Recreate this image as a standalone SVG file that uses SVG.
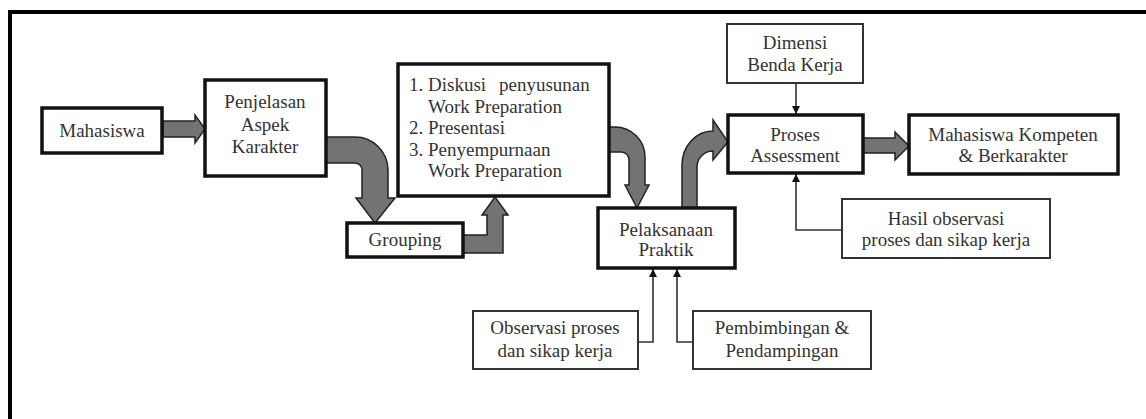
<svg xmlns="http://www.w3.org/2000/svg" width="1146" height="419" viewBox="0 0 1146 419">
<defs>
<style>
.thick{fill:#fff;stroke:#111;stroke-width:3.5}
.thin{fill:#fff;stroke:#333;stroke-width:2}
text{font-family:'Liberation Serif','DejaVu Serif',serif;font-size:19px;fill:#333}
.t{text-anchor:middle}
.fat{fill:#737373;stroke:#222;stroke-width:1.5;stroke-linejoin:miter}
.ln{fill:none;stroke:#333;stroke-width:1.6}
</style>
<marker id="ah" markerWidth="9" markerHeight="9" refX="8" refY="4" orient="auto" markerUnits="userSpaceOnUse">
<path d="M0,0 L8,4 L0,8 Z" fill="#111"/>
</marker>
</defs>
<rect x="0" y="0" width="1146" height="419" fill="#fff"/>
<path d="M10,419 L10,12 L1146,12" fill="none" stroke="#000" stroke-width="4"/>

<g id="connectors">
<path class="fat" d="M163,121 L195,121 L195,115 L205,129 L195,143 L195,137 L163,137 Z"/>
<path class="fat" d="M326,137 L355,137 A33,33 0 0 1 388,170 L388,198 L395,198 L375,223 L356,198 L362,198 L362,170 A7,7 0 0 0 355,163 L326,163 Z"/>
<path class="fat" d="M463,235 L487,235 L487,215 L482,215 L495,197 L508,215 L503,215 L503,253 L463,253 Z"/>
<path class="fat" d="M609,127 L615,127 A30,30 0 0 1 645,157 L645,185 L649,185 L637,208 L625,185 L629,185 L629,160 A8,8 0 0 0 621,152 L609,152 Z"/>
<path class="fat" d="M682,208 L682,165 A31,34 0 0 1 713,131 L713,120 L728,142 L713,160 L713,151 A16,16 0 0 0 697,167 L697,208 Z"/>
<path class="fat" d="M863,138 L895,138 L895,132 L909,146 L895,160 L895,153 L863,153 Z"/>
<path class="ln" d="M796,83 L796,114" marker-end="url(#ah)"/>
<path class="ln" d="M842,230 L796,230 L796,174" marker-end="url(#ah)"/>
<path class="ln" d="M638,342 L653,342 L653,269" marker-end="url(#ah)"/>
<path class="ln" d="M693,342 L677,342 L677,269" marker-end="url(#ah)"/>
</g>

<g id="n-mahasiswa">
<rect class="thick" x="42" y="108" width="120" height="45"/>
<text class="t" x="102" y="137" font-family="Liberation Serif, serif">Mahasiswa</text>
</g>
<g id="n-penjelasan">
<rect class="thick" x="205" y="80" width="121" height="96"/>
<text class="t" x="265" y="108">Penjelasan</text>
<text class="t" x="265" y="131">Aspek</text>
<text class="t" x="265" y="153">Karakter</text>
</g>
<g id="n-grouping">
<rect class="thick" x="347" y="223" width="116" height="34"/>
<text class="t" x="405" y="246">Grouping</text>
</g>
<g id="n-list">
<rect class="thick" x="398" y="64" width="211" height="132"/>
<text x="409" y="91">1. Diskusi</text>
<text x="499" y="91">penyusunan</text>
<text x="428" y="112.5">Work Preparation</text>
<text x="409" y="134">2. Presentasi</text>
<text x="409" y="155.5">3. Penyempurnaan</text>
<text x="428" y="177">Work Preparation</text>
</g>
<g id="n-pelaksanaan">
<rect class="thick" x="598" y="208" width="137" height="60"/>
<text class="t" x="666" y="236">Pelaksanaan</text>
<text class="t" x="666" y="256">Praktik</text>
</g>
<g id="n-dimensi">
<rect class="thin" x="727" y="24" width="136" height="59"/>
<text class="t" x="795" y="49">Dimensi</text>
<text class="t" x="795" y="71">Benda Kerja</text>
</g>
<g id="n-proses">
<rect class="thick" x="728" y="115" width="135" height="58"/>
<text class="t" x="795" y="141">Proses</text>
<text class="t" x="795" y="162">Assessment</text>
</g>
<g id="n-kompeten">
<rect class="thick" x="909" y="115" width="209" height="59"/>
<text class="t" x="1013" y="141">Mahasiswa Kompeten</text>
<text class="t" x="1013" y="162">&amp; Berkarakter</text>
</g>
<g id="n-hasil">
<rect class="thin" x="842" y="199" width="208" height="59"/>
<text class="t" x="946" y="225">Hasil observasi</text>
<text class="t" x="946" y="246">proses dan sikap kerja</text>
</g>
<g id="n-observasi">
<rect class="thin" x="473" y="311" width="165" height="58"/>
<text class="t" x="555" y="334">Observasi proses</text>
<text class="t" x="555" y="357">dan sikap kerja</text>
</g>
<g id="n-pembimbingan">
<rect class="thin" x="693" y="311" width="178" height="58"/>
<text class="t" x="782" y="334">Pembimbingan &amp;</text>
<text class="t" x="782" y="357">Pendampingan</text>
</g>
</svg>
